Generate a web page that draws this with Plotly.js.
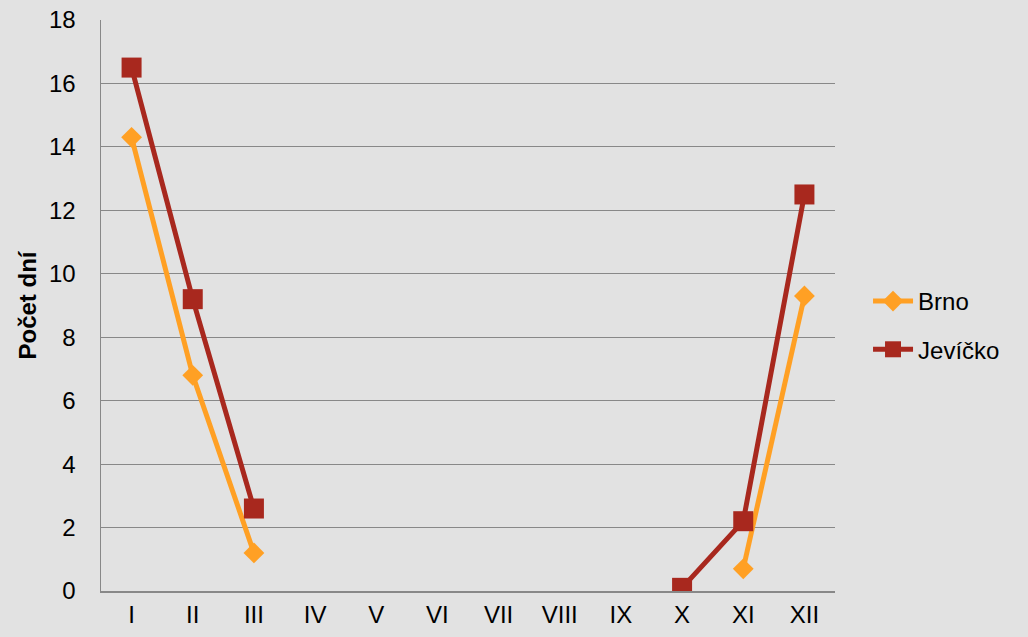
<!DOCTYPE html>
<html><head><meta charset="utf-8">
<script src="https://cdn.plot.ly/plotly-3.0.1.min.js"></script>
<style>html,body{margin:0;padding:0;background:#e2e2e2;}#c{width:1028px;height:637px;}</style>
</head><body><div id="c"></div>
<script>
const months = ['I','II','III','IV','V','VI','VII','VIII','IX','X','XI','XII'];
const brno = [14.3, 6.8, 1.2, null, null, null, null, null, null, null, 0.7, 9.3];
const jevicko = [16.5, 9.2, 2.6, null, null, null, null, null, null, 0.1, 2.2, 12.5];
const yTicks = [0,2,4,6,8,10,12,14,16,18];

const data = [
  {x: months, y: brno, name: 'Brno', legendgroup: 'a', type: 'scatter', mode: 'lines+markers',
   line: {color: '#ffa024', width: 5}, marker: {symbol: 'diamond', size: 16, color: '#ffa024'}},
  {x: months, y: jevicko, name: 'Jevíčko', legendgroup: 'b', type: 'scatter', mode: 'lines+markers',
   line: {color: '#a8281e', width: 5}, marker: {symbol: 'square', size: 20, color: '#a8281e'}}
];
const layout = {
  width: 1028, height: 637,
  paper_bgcolor: '#e2e2e2', plot_bgcolor: 'rgba(0,0,0,0)',
  margin: {l: 101, r: 193, t: 20, b: 46},
  font: {family: 'Liberation Sans, Arial, sans-serif', size: 24, color: '#000'},
  xaxis: {type: 'category', showgrid: false, showline: true, linecolor: '#888', linewidth: 1.5,
          ticks: '', tickfont: {size: 24}, ticklabelstandoff: 2, range: [-0.5, 11.5], fixedrange: true},
  yaxis: {range: [0, 18], tickvals: yTicks, showgrid: true, gridcolor: '#888', gridwidth: 1.2,
          showline: true, linecolor: '#888', linewidth: 1.5, zeroline: false, ticks: '',
          ticklabelstandoff: 19, tickfont: {size: 24},
          title: {text: '<b>Počet dní</b>', font: {size: 24}, standoff: 5}},
  legend: {x: 1.045, y: 0.465, xanchor: 'left', yanchor: 'middle', bgcolor: 'rgba(0,0,0,0)',
           font: {size: 24}, tracegroupgap: 14, itemwidth: 40},
  showlegend: true
};
Plotly.newPlot('c', data, layout, {displayModeBar: false, staticPlot: true});
</script></body></html>
